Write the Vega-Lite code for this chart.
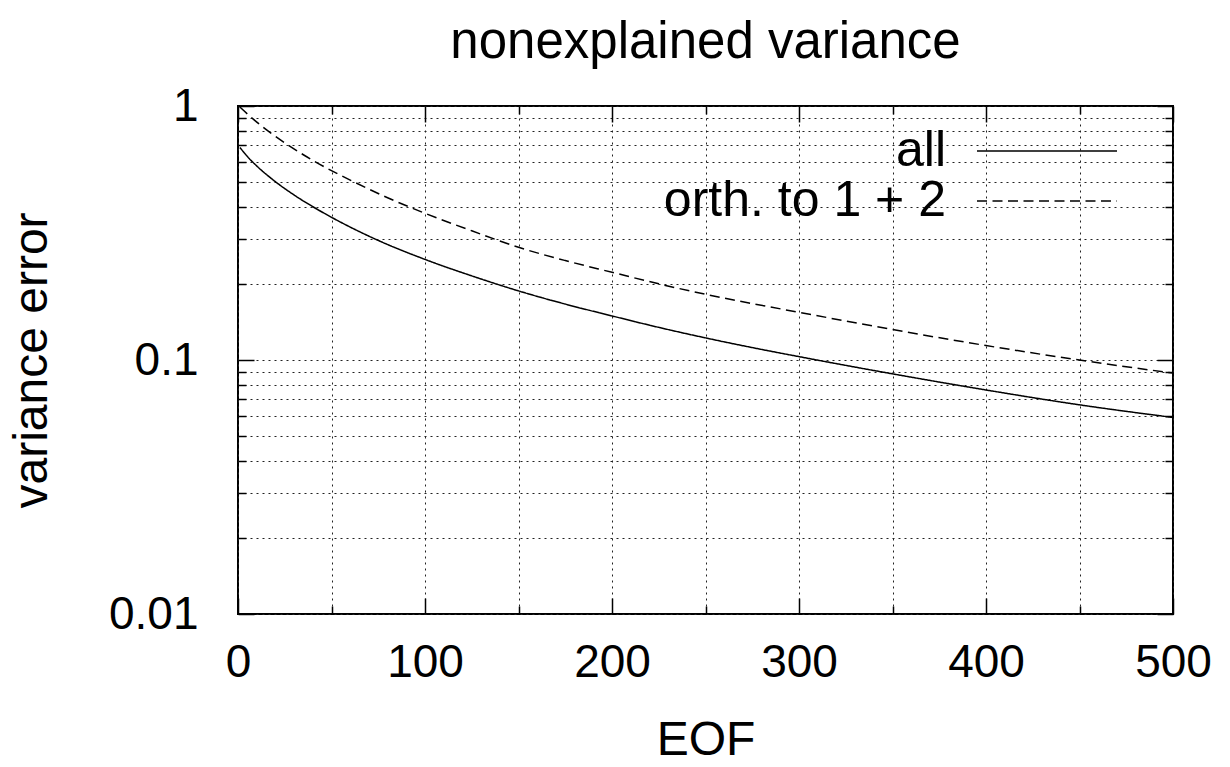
{
  "$schema": "https://vega.github.io/schema/vega-lite/v6.json",
  "width": 935,
  "height": 508,
  "autosize": {"type": "none"},
  "padding": {"left": 238, "top": 106, "right": 57, "bottom": 153},
  "background": "white",
  "config": {
    "font": "Liberation Sans",
    "view": {"stroke": "black", "strokeWidth": 2},
    "axis": {"labelFont": "Liberation Sans", "titleFont": "Liberation Sans", "labelColor": "black", "titleColor": "black", "titleFontWeight": "normal"}
  },
  "title": {"text": "nonexplained variance", "fontSize": 51, "fontWeight": "normal", "font": "Liberation Sans", "color": "black", "offset": 14},
  "data": {"values": [
    {"EOF": 1, "value": 0.6866, "series": "all"},
    {"EOF": 6, "value": 0.6214, "series": "all"},
    {"EOF": 10, "value": 0.5809, "series": "all"},
    {"EOF": 18.5, "value": 0.5136, "series": "all"},
    {"EOF": 30, "value": 0.4463, "series": "all"},
    {"EOF": 42.5, "value": 0.3916, "series": "all"},
    {"EOF": 50, "value": 0.3646, "series": "all"},
    {"EOF": 74, "value": 0.2979, "series": "all"},
    {"EOF": 100, "value": 0.2489, "series": "all"},
    {"EOF": 125, "value": 0.2144, "series": "all"},
    {"EOF": 150, "value": 0.1871, "series": "all"},
    {"EOF": 175, "value": 0.166, "series": "all"},
    {"EOF": 200, "value": 0.1491, "series": "all"},
    {"EOF": 225, "value": 0.1344, "series": "all"},
    {"EOF": 250, "value": 0.1222, "series": "all"},
    {"EOF": 275, "value": 0.1119, "series": "all"},
    {"EOF": 300, "value": 0.1031, "series": "all"},
    {"EOF": 350, "value": 0.0882, "series": "all"},
    {"EOF": 400, "value": 0.0762, "series": "all"},
    {"EOF": 450, "value": 0.0666, "series": "all"},
    {"EOF": 500, "value": 0.0594, "series": "all"},
    {"EOF": 1, "value": 0.991, "series": "orth. to 1 + 2"},
    {"EOF": 8, "value": 0.89, "series": "orth. to 1 + 2"},
    {"EOF": 16, "value": 0.798, "series": "orth. to 1 + 2"},
    {"EOF": 26, "value": 0.708, "series": "orth. to 1 + 2"},
    {"EOF": 41, "value": 0.605, "series": "orth. to 1 + 2"},
    {"EOF": 61, "value": 0.5067, "series": "orth. to 1 + 2"},
    {"EOF": 80, "value": 0.4355, "series": "orth. to 1 + 2"},
    {"EOF": 100, "value": 0.378, "series": "orth. to 1 + 2"},
    {"EOF": 125, "value": 0.3226, "series": "orth. to 1 + 2"},
    {"EOF": 150, "value": 0.2778, "series": "orth. to 1 + 2"},
    {"EOF": 175, "value": 0.2463, "series": "orth. to 1 + 2"},
    {"EOF": 200, "value": 0.2215, "series": "orth. to 1 + 2"},
    {"EOF": 225, "value": 0.1995, "series": "orth. to 1 + 2"},
    {"EOF": 250, "value": 0.1814, "series": "orth. to 1 + 2"},
    {"EOF": 275, "value": 0.1668, "series": "orth. to 1 + 2"},
    {"EOF": 300, "value": 0.1541, "series": "orth. to 1 + 2"},
    {"EOF": 350, "value": 0.1318, "series": "orth. to 1 + 2"},
    {"EOF": 400, "value": 0.114, "series": "orth. to 1 + 2"},
    {"EOF": 450, "value": 0.09995, "series": "orth. to 1 + 2"},
    {"EOF": 500, "value": 0.0888, "series": "orth. to 1 + 2"}
  ]},
  "resolve": {"axis": {"x": "independent", "y": "independent"}},
  "layer": [
    {
      "mark": {"type": "line", "color": "black", "strokeWidth": 1.5, "interpolate": "monotone", "clip": true},
      "encoding": {
        "x": {"field": "EOF", "type": "quantitative",
          "scale": {"domain": [0, 500], "nice": false, "zero": false},
          "axis": {"orient": "bottom", "title": "EOF", "titleFontSize": 48, "titlePadding": 31,
            "values": [0, 50, 100, 150, 200, 250, 300, 350, 400, 450, 500],
            "labelExpr": "datum.value % 100 === 0 ? datum.label : ''",
            "labelFontSize": 46, "labelPadding": 42, "labelFlush": false,
            "tickSize": {"condition": {"test": "datum.value % 100 === 0", "value": -16}, "value": -8},
            "tickColor": "black", "tickWidth": 1.5,
            "domain": false,
            "grid": true, "gridColor": "#222", "gridDash": [2, 4], "gridWidth": 1}},
        "y": {"field": "value", "type": "quantitative",
          "scale": {"type": "log", "domain": [0.01, 1], "nice": false},
          "axis": {"orient": "left", "title": "variance error", "titleFontSize": 48, "titlePadding": 52,
            "values": [0.01, 0.02, 0.03, 0.04, 0.05, 0.06, 0.07, 0.08, 0.09, 0.1, 0.2, 0.3, 0.4, 0.5, 0.6, 0.7, 0.8, 0.9, 1],
            "labelExpr": "datum.value === 1 ? '1' : datum.value === 0.1 ? '0.1' : datum.value === 0.01 ? '0.01' : ''",
            "labelFontSize": 46, "labelPadding": 56, "labelFlush": false,
            "tickSize": {"condition": {"test": "datum.value === 1 || datum.value === 0.1 || datum.value === 0.01", "value": -16}, "value": -8},
            "tickColor": "black", "tickWidth": 1.5,
            "domain": false,
            "grid": true, "gridColor": "#222", "gridDash": [2, 4], "gridWidth": 1}},
        "strokeDash": {"field": "series", "type": "nominal",
          "scale": {"domain": ["all", "orth. to 1 + 2"], "range": [[1, 0], [10, 5.5]]},
          "legend": {"title": null, "orient": "none", "legendX": 738, "legendY": 20,
            "symbolType": "stroke", "symbolSize": 19600, "symbolStrokeWidth": 1.5, "symbolStrokeColor": "black",
            "clipHeight": 50, "rowPadding": 0, "labelFontSize": 50, "labelFont": "Liberation Sans", "labelColor": "black",
            "labelAlign": "right", "labelOffset": -172, "labelLimit": 1000, "labelBaseline": "middle",
            "encode": {"entries": {"update": {"width": {"value": 150}}}}}}
      }
    },
    {
      "mark": {"type": "line", "color": "black", "strokeOpacity": 0},
      "encoding": {
        "detail": {"field": "series"},
        "x": {"field": "EOF", "type": "quantitative",
          "axis": {"orient": "top", "title": null, "labels": false, "grid": false, "domain": false,
            "values": [0, 50, 100, 150, 200, 250, 300, 350, 400, 450, 500],
            "tickSize": {"condition": {"test": "datum.value % 100 === 0", "value": -16}, "value": -8},
            "tickColor": "black", "tickWidth": 1.5}},
        "y": {"field": "value", "type": "quantitative",
          "axis": {"orient": "right", "title": null, "labels": false, "grid": false, "domain": false,
            "values": [0.01, 0.02, 0.03, 0.04, 0.05, 0.06, 0.07, 0.08, 0.09, 0.1, 0.2, 0.3, 0.4, 0.5, 0.6, 0.7, 0.8, 0.9, 1],
            "tickSize": {"condition": {"test": "datum.value === 1 || datum.value === 0.1 || datum.value === 0.01", "value": -16}, "value": -8},
            "tickColor": "black", "tickWidth": 1.5}}
      }
    }
  ]
}
